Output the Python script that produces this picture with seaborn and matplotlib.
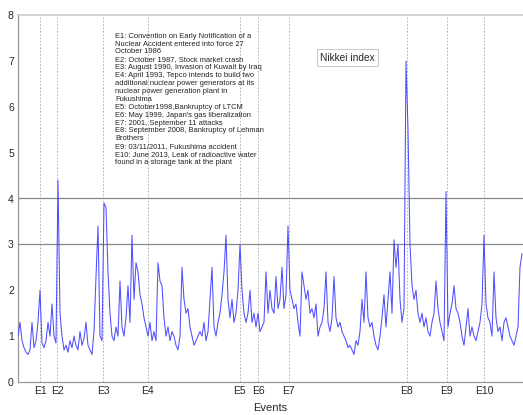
# Nikkei index volatility with event markers
import numpy as np
import matplotlib
matplotlib.use("Agg")
import matplotlib.pyplot as plt
import seaborn as sns
import pandas as pd

sns.set_theme(style="white")
plt.rcParams['font.family'] = ['Liberation Sans', 'DejaVu Sans']

# Series, one sample every ~2 px along the time axis
vol = [
    1.0, 1.3, 0.9, 0.75, 0.65, 0.6, 0.7, 1.3, 0.75, 0.9, 1.3, 2.0, 0.85, 0.75,
    0.9, 1.3, 1.0, 1.7, 1.0, 0.85, 4.4, 1.5, 1.0, 0.7, 0.8, 0.65, 0.9, 0.75,
    1.0, 0.8, 0.7, 1.1, 0.8, 0.95, 1.3, 0.8, 0.7, 0.6, 1.1, 2.3, 3.4, 1.0,
    0.9, 3.9, 3.8, 2.4, 1.5, 1.0, 0.9, 1.2, 1.0, 2.2, 1.2, 1.0, 1.4, 2.1,
    1.3, 3.2, 1.8, 2.6, 2.4, 1.9, 1.7, 1.4, 1.2, 1.0, 1.3, 0.9, 1.1, 0.9,
    2.6, 2.2, 2.1, 1.4, 1.0, 1.2, 0.9, 1.1, 1.0, 0.8, 0.7, 1.0, 2.5, 1.8,
    1.5, 1.6, 1.2, 1.0, 0.8, 0.9, 1.0, 1.1,
    1.0, 1.3, 0.9, 1.1, 1.8, 2.5, 1.2, 1.0, 1.3, 1.5, 1.9, 2.4, 3.2, 1.8,
    1.4, 1.8, 1.3, 1.5, 2.0, 3.0, 2.0, 1.5, 1.3, 1.5, 2.0, 1.3, 1.5, 1.2,
    1.5, 1.1, 1.2, 1.3, 2.4, 1.5, 2.0, 1.6, 1.5, 2.3, 1.6, 1.8, 2.5, 1.6,
    1.9, 3.4, 2.0, 1.8, 1.6, 1.7, 1.3, 1.0, 2.4, 2.1, 1.8, 2.0, 1.5, 1.6,
    1.4, 1.7, 1.0, 1.2, 1.3, 1.6, 2.4, 1.3, 1.1, 1.4, 2.3, 1.4, 1.2, 1.3,
    1.1, 1.0, 0.9, 0.75, 0.8, 0.7, 0.6, 0.9, 0.8, 1.1, 1.8, 1.3, 2.4, 1.4,
    1.2, 1.3, 1.0, 0.8, 0.7, 1.0, 1.4, 1.9, 1.2, 1.8, 2.4, 1.5, 3.1, 2.5,
    3.0, 1.8, 1.3, 1.6, 7.0, 5.5, 3.0, 2.1, 1.8, 2.0, 1.5, 1.3, 1.5, 1.2,
    1.4, 1.1, 1.0, 1.3, 1.5, 2.2, 1.6, 1.3, 1.1, 0.9, 4.15, 1.2, 1.5, 1.7,
    2.1, 1.6, 1.5, 1.3, 1.0, 0.8, 1.2, 1.6, 1.0, 1.2, 1.0, 0.9, 1.1, 1.3,
    1.7, 3.2, 1.7, 1.4, 1.3, 1.0, 2.4, 1.4, 1.1, 1.2, 0.9, 1.3, 1.4, 1.2,
    1.0, 0.9, 0.8, 1.0, 1.2, 2.5, 2.8,
]

# event positions on the same sample axis, and their tick labels
event_pos = [11.15, 19.65, 42.65, 64.85, 110.85, 120.15, 135.35, 194.35, 214.35, 233.15]
event_labels = ['E1', 'E2', 'E3', 'E4', 'E5', 'E6', 'E7', 'E8', 'E9', 'E10']

notes = ("E1: Convention on Early Notification of a\n"
         "Nuclear Accident entered into force 27\n"
         "October 1986\n"
         "E2: October 1987, Stock market crash\n"
         "E3: August 1990, Invasion of Kuwait by Iraq\n"
         "E4: April 1993, Tepco intends to build two\n"
         "additional nuclear power generators at its\n"
         "nuclear power generation plant in\n"
         "Fukushima\n"
         "E5: October1998,Bankruptcy of LTCM\n"
         "E6: May 1999, Japan's gas liberalization\n"
         "E7: 2001, September 11 attacks\n"
         "E8: September 2008, Bankruptcy of Lehman\n"
         "Brothers\n"
         "E9: 03/11/2011, Fukushima accident\n"
         "E10: June 2013, Leak of radioactive water\n"
         "found in a storage tank at the plant")

df = pd.DataFrame({'t': np.arange(len(vol)), 'vol': vol})

fig = plt.figure(figsize=(5.23, 4.15), dpi=100)
ax = fig.add_axes([18 / 523, 1 - 382 / 415, 505 / 523, 367 / 415])

# event lines behind the series
for p in event_pos:
    ax.axvline(p, color='#aaaaaa', lw=0.6, ls=(0, (2, 2)), zorder=1)
ax.axhline(3, color='#888888', lw=0.9, zorder=1)
ax.axhline(4, color='#888888', lw=0.9, zorder=1)

sns.lineplot(data=df, x='t', y='vol', ax=ax, color='#3c3cff', lw=0.75,
             alpha=0.9, zorder=3)

ax.set_xlim(0, 252.5)
ax.set_ylim(0, 8)
ax.set_yticks(range(9))
ax.set_xticks(event_pos)
ax.set_xticklabels(event_labels)
ax.tick_params(axis='both', direction='in', length=3, color='#999999',
               labelsize=7.5, pad=3)
ax.set_xlabel('Events', fontsize=8, labelpad=5)
ax.set_ylabel('')

for side in ['left', 'bottom']:
    ax.spines[side].set_color('#999999')
    ax.spines[side].set_linewidth(0.9)
ax.spines['top'].set_color('#cccccc')
ax.spines['right'].set_visible(False)

ax.text(0.192, 0.952, notes, transform=ax.transAxes, fontsize=5.4,
        linespacing=1.18, va='top', ha='left', color='#222222')
ax.text(0.6525, 0.884, 'Nikkei index', transform=ax.transAxes, fontsize=7.3,
        ha='center', va='center',
        bbox=dict(boxstyle='square,pad=0.35', fc='white', ec='#cccccc', lw=0.8))

fig.savefig('out.png', dpi=100)
